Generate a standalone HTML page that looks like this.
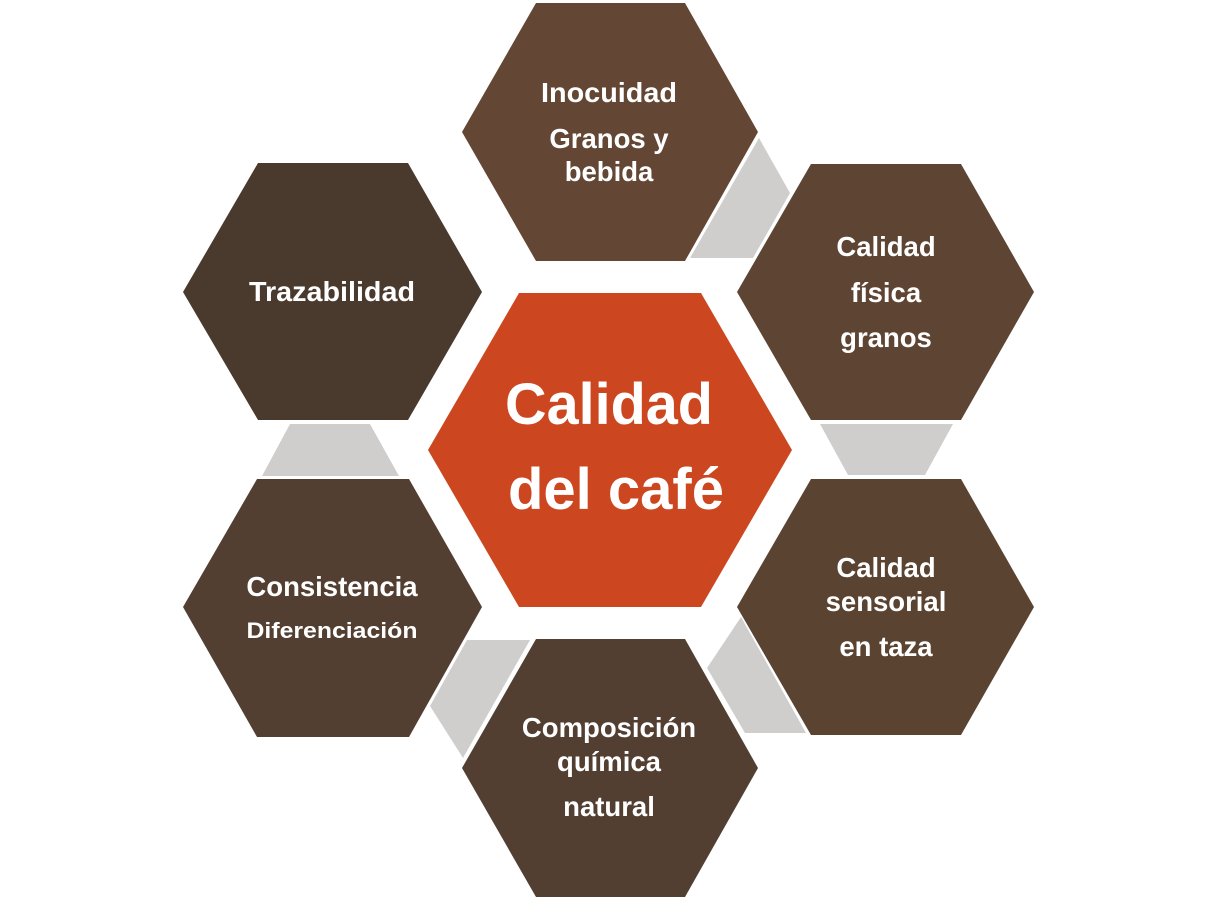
<!DOCTYPE html>
<html><head><meta charset="utf-8"><style>
html,body{margin:0;padding:0;background:#fff;width:1218px;height:900px;overflow:hidden}
svg text{font-family:"Liberation Sans",Arial,sans-serif;font-weight:bold;fill:#fff;text-anchor:middle}
</style></head><body>
<svg width="1218" height="900" viewBox="0 0 1218 900">
<g fill="#d0cdcd">
<polygon points="759,138 790,193 753,258 690,258"/>
<polygon points="820,424 953,424 925,475 848,475"/>
<polygon points="741,617 806,733 745,733 707,668"/>
<polygon points="467,640 530,640 463,758 430,706"/>
<polygon points="290,424 370,424 399,476 262,476"/>
</g>
<polygon fill="#644634" points="536,3 685,3 758,132 685,261 536,261 462,132"/>
<polygon fill="#4a3a2e" points="258,163 408,163 482,292 408,420 258,420 183,292"/>
<polygon fill="#5e4433" points="811,164 961,164 1034,292 961,420 811,420 737,292"/>
<polygon fill="#5b4332" points="811,479 961,479 1034,607 961,735 811,735 737,607"/>
<polygon fill="#523f32" points="536,639 685,639 758,768 685,897 536,897 462,768"/>
<polygon fill="#523f31" points="257,479 409,479 482,607 409,737 257,737 183,607"/>
<polygon fill="#cc4720" points="519,293 701,293 792,450 701,607 519,607 428,450"/>
<g font-size="27.5">
<text x="609" y="102" textLength="136" lengthAdjust="spacingAndGlyphs">Inocuidad</text>
<text x="609" y="148">Granos y</text>
<text x="609" y="181">bebida</text>
<text x="332" y="301" textLength="166" lengthAdjust="spacingAndGlyphs">Trazabilidad</text>
<text x="886" y="256">Calidad</text>
<text x="886" y="302">física</text>
<text x="886" y="347">granos</text>
<text x="886" y="577">Calidad</text>
<text x="886" y="611">sensorial</text>
<text x="886" y="656">en taza</text>
<text x="609" y="737">Composición</text>
<text x="609" y="771">química</text>
<text x="609" y="816">natural</text>
<text x="332" y="596">Consistencia</text>
</g>
<text x="332" y="638" font-size="22" textLength="171" lengthAdjust="spacingAndGlyphs">Diferenciación</text>
<text x="609" y="424" font-size="58" textLength="208" lengthAdjust="spacingAndGlyphs">Calidad</text>
<text x="616" y="509" font-size="58">del café</text>
</svg>
</body></html>
